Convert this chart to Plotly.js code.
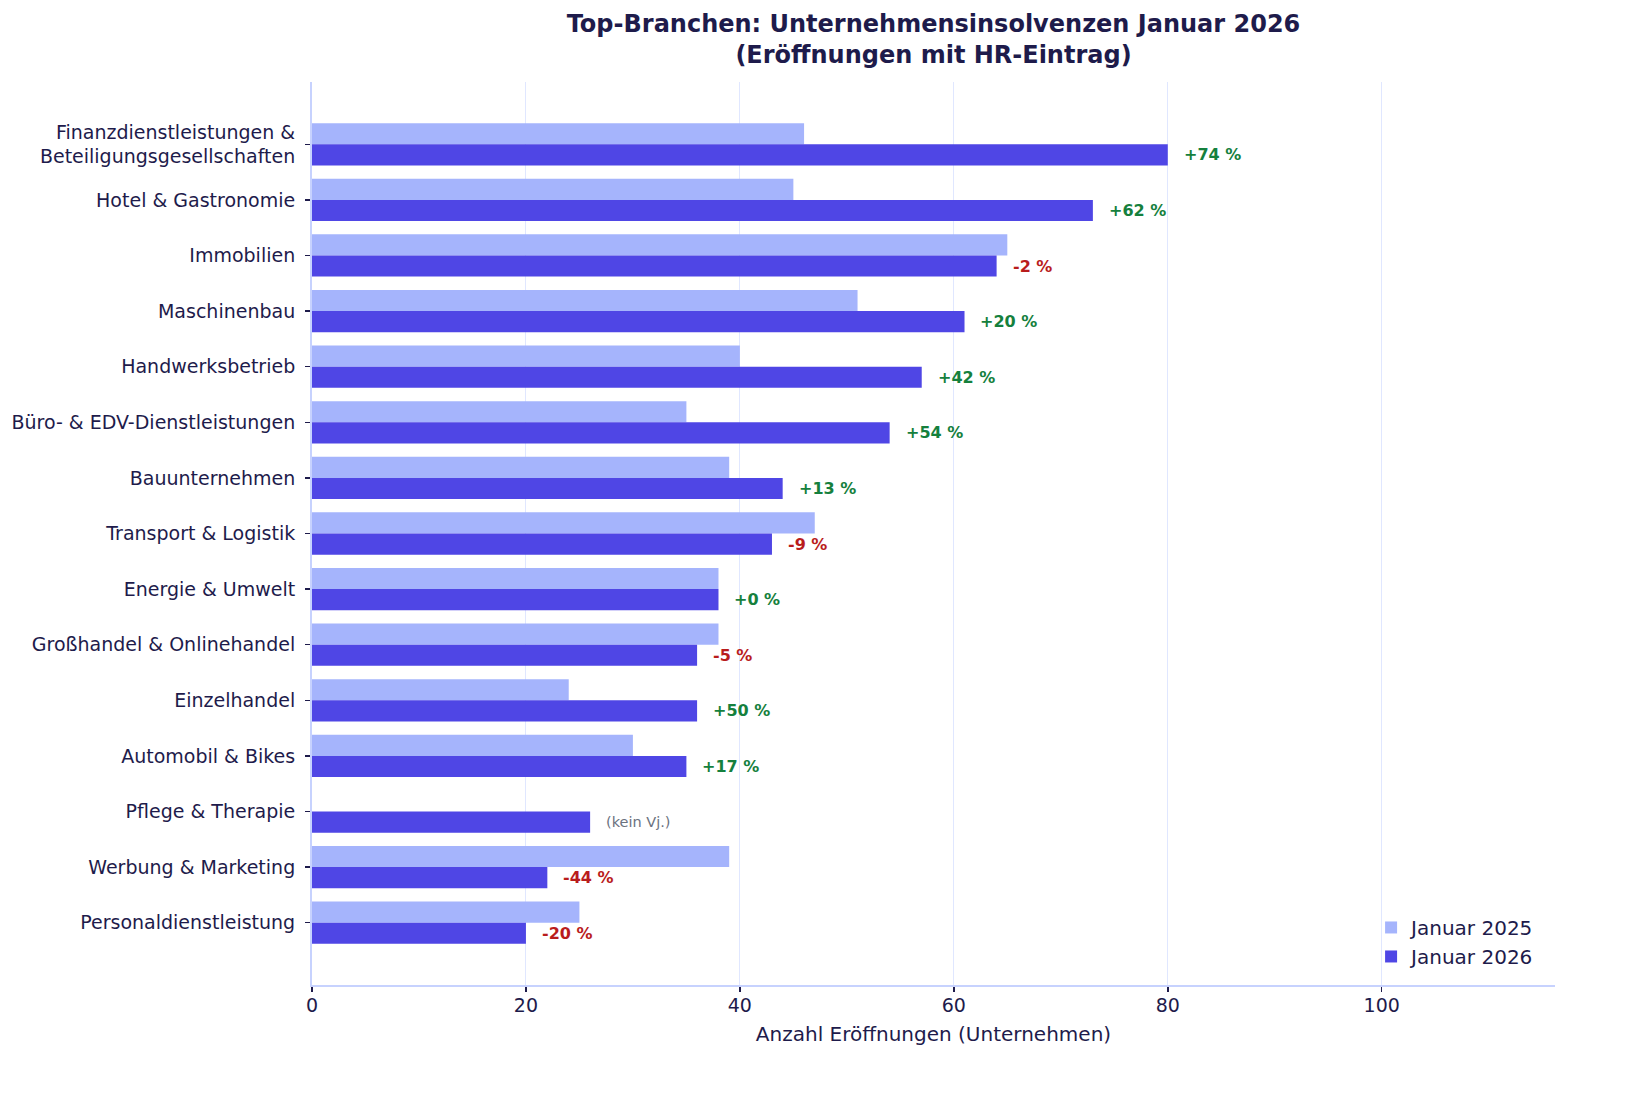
<!DOCTYPE html>
<html>
<head>
<meta charset="utf-8">
<script src="https://cdn.plot.ly/plotly-3.0.1.min.js"></script>
<style>html,body{margin:0;padding:0;background:#fff;}#chart{width:1630px;height:1102px;}</style>
</head>
<body>
<div id="chart"></div>
<script>
const categories = [
  "Finanzdienstleistungen &<br>Beteiligungsgesellschaften",
  "Hotel & Gastronomie",
  "Immobilien",
  "Maschinenbau",
  "Handwerksbetrieb",
  "Büro- & EDV-Dienstleistungen",
  "Bauunternehmen",
  "Transport & Logistik",
  "Energie & Umwelt",
  "Großhandel & Onlinehandel",
  "Einzelhandel",
  "Automobil & Bikes",
  "Pflege & Therapie",
  "Werbung & Marketing",
  "Personaldienstleistung"
];
const jan2025 = [46, 45, 65, 51, 40, 35, 39, 47, 38, 38, 24, 30, null, 39, 25];
const jan2026 = [80, 73, 64, 61, 57, 54, 44, 43, 38, 36, 36, 35, 26, 22, 20];
const changeLabels = ["+74 %", "+62 %", "-2 %", "+20 %", "+42 %", "+54 %", "+13 %", "-9 %", "+0 %", "-5 %", "+50 %", "+17 %", "(kein Vj.)", "-44 %", "-20 %"];
const xTicks = [0, 20, 40, 60, 80, 100];

const ink = "#1e1b4b";
const font = "DejaVu Sans, sans-serif";

const traces = [
  {type: "bar", orientation: "h", name: "Januar 2025", x: jan2025, y: categories,
   marker: {color: "#a5b4fc"}, hoverinfo: "x"},
  {type: "bar", orientation: "h", name: "Januar 2026", x: jan2026, y: categories,
   marker: {color: "#4f46e5"}, hoverinfo: "x"}
];

const annotations = changeLabels.map((t, i) => {
  let color, size = 16, weight = "bold";
  if (t.startsWith("(")) { color = "#6b7280"; size = 14.5; weight = "normal"; }
  else if (t.startsWith("-")) color = "#b91c1c";
  else color = "#15803d";
  return {
    x: jan2026[i] + 1.3, y: categories[i], xref: "x", yref: "y",
    text: t, showarrow: false, xanchor: "left", yanchor: "middle", yshift: -10.6,
    font: {family: font, size: size, color: color, weight: weight}
  };
});

const n = categories.length;
const layout = {
  width: 1630, height: 1102,
  paper_bgcolor: "#ffffff", plot_bgcolor: "#ffffff",
  margin: {l: 312, r: 75, t: 82, b: 117, pad: 0},
  font: {family: font, color: ink, size: 19},
  title: {
    text: "<b>Top-Branchen: Unternehmensinsolvenzen Januar 2026<br>(Eröffnungen mit HR-Eintrag)</b>",
    x: 0.5, xref: "paper", xanchor: "center",
    y: 0.9714, yref: "container", yanchor: "top",
    font: {family: font, size: 24, color: ink}
  },
  barmode: "group", bargap: 0.24, bargroupgap: 0,
  xaxis: {
    range: [0, 116.2], tickvals: xTicks, ticktext: xTicks.map(String),
    showgrid: true, gridcolor: "#e0e7ff", gridwidth: 1, zeroline: false,
    showline: true, linecolor: "#c7d2fe", linewidth: 2,
    ticks: "outside", ticklen: 5, tickcolor: ink, tickwidth: 1.5,
    ticklabelstandoff: -3,
    tickfont: {family: font, size: 19, color: ink},
    title: {text: "Anzahl Eröffnungen (Unternehmen)", standoff: 12, font: {family: font, size: 20, color: ink}}
  },
  yaxis: {
    type: "category", range: [n - 1 + 1.12, -1.12],
    showgrid: false, zeroline: false,
    showline: true, linecolor: "#c7d2fe", linewidth: 2,
    ticks: "outside", ticklen: 5, tickcolor: ink, tickwidth: 1.5,
    ticklabelstandoff: 6,
    tickfont: {family: font, size: 19, color: ink}
  },
  legend: {
    x: 0.988, xanchor: "right", y: 0.01, yanchor: "bottom",
    traceorder: "normal", bgcolor: "rgba(0,0,0,0)",
    font: {family: font, size: 20, color: ink}
  },
  annotations: annotations,
  showlegend: true
};

Plotly.newPlot("chart", traces, layout, {staticPlot: true, displayModeBar: false});
</script>
</body>
</html>
